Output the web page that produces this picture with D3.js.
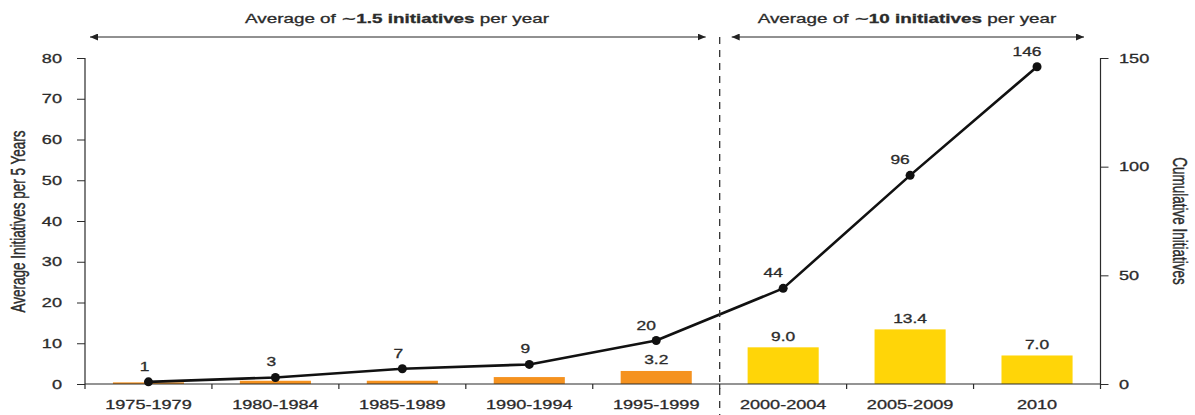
<!DOCTYPE html>
<html>
<head>
<meta charset="utf-8">
<script src="https://cdn.jsdelivr.net/npm/d3@7"></script>
<style>
  body { margin: 0; background: #fff; }
  svg { display: block; font-family: "Liberation Sans", Arial, Helvetica, sans-serif; }
  svg text { stroke: #2b2b2b; stroke-width: 0.3px; }
</style>
</head>
<body>
<div id="chart"></div>
<script>
// data
var categories = ["1975-1979", "1980-1984", "1985-1989", "1990-1994", "1995-1999", "2000-2004", "2005-2009", "2010"];
var avgPer5Years = [0.4, 0.8, 0.8, 1.7, 3.2, 9.0, 13.4, 7.0];
var barLabels = [null, null, null, null, "3.2", "9.0", "13.4", "7.0"];
var cumulative = [1, 3, 7, 9, 20, 44, 96, 146];
var era = ["early", "early", "early", "early", "early", "late", "late", "late"];
var leftTicks = [0, 10, 20, 30, 40, 50, 60, 70, 80];
var rightTicks = [0, 50, 100, 150];

var width = 1195, height = 415;
var sx = 1.45; // the original picture is stretched sideways, text too
var plotLeft = 85, plotRight = 1100.5, plotTop = 58, plotBottom = 384;
var ink = "#2b2b2b";
var colors = { early: "#F5921F", late: "#FFD508" };

var svg = d3.select("#chart").append("svg")
  .attr("width", width)
  .attr("height", height);

var defs = svg.append("defs");
defs.append("marker")
  .attr("id", "head")
  .attr("markerUnits", "userSpaceOnUse")
  .attr("markerWidth", 9).attr("markerHeight", 7)
  .attr("refX", 8).attr("refY", 3.5)
  .attr("orient", "auto-start-reverse")
  .append("path")
  .attr("d", "M0,0L8,3.5L0,7Z")
  .attr("fill", "#222");

var x = d3.scaleBand()
  .domain(categories)
  .range([plotLeft, plotRight])
  .paddingInner(0.44)
  .paddingOuter(0.22);

var yL = d3.scaleLinear().domain([0, 80]).range([plotBottom, plotTop]);
var yR = d3.scaleLinear().domain([0, 150]).range([plotBottom, plotTop]);

// helper: stretched text placed at (px, py)
function stretchedText(parent, px, py, rot) {
  var g = parent.append("g")
    .attr("transform", "translate(" + px + "," + py + ") scale(" + sx + ",1)" + (rot ? " rotate(" + rot + ")" : ""));
  return g.append("text").attr("fill", ink);
}

// bars
var step = x.step();
svg.selectAll("rect.bar")
  .data(categories)
  .enter().append("rect")
  .attr("class", "bar")
  .attr("x", function(d) { return x(d); })
  .attr("width", x.bandwidth())
  .attr("y", function(d, i) { return yL(avgPer5Years[i]); })
  .attr("height", function(d, i) { return plotBottom - yL(avgPer5Years[i]); })
  .attr("fill", function(d, i) { return colors[era[i]]; });

// bar labels
categories.forEach(function(c, i) {
  if (!barLabels[i]) return;
  stretchedText(svg, x(c) + x.bandwidth() / 2, yL(avgPer5Years[i]) - 6.5)
    .attr("text-anchor", "middle")
    .attr("font-size", 12)
    .text(barLabels[i]);
});

// left axis
var axL = svg.append("g").attr("transform", "translate(" + plotLeft + ",0)")
  .call(d3.axisLeft(yL).tickValues(leftTicks).tickSize(8).tickSizeOuter(0));
axL.select(".domain").remove();
axL.selectAll("line").attr("stroke", ink);
axL.selectAll("text")
  .attr("x", -23 / sx)
  .attr("transform", "scale(" + sx + ",1)")
  .attr("font-size", 12.5)
  .attr("font-family", null)
  .attr("fill", ink);
svg.append("line")
  .attr("x1", plotLeft).attr("x2", plotLeft)
  .attr("y1", plotTop).attr("y2", plotBottom + 5)
  .attr("stroke", ink).attr("stroke-width", 1.2);

// right axis
var axR = svg.append("g").attr("transform", "translate(" + plotRight + ",0)")
  .call(d3.axisRight(yR).tickValues(rightTicks).tickSize(8).tickSizeOuter(0));
axR.select(".domain").remove();
axR.selectAll("line").attr("stroke", ink);
axR.selectAll("text")
  .attr("x", 18.5 / sx)
  .attr("transform", "scale(" + sx + ",1)")
  .attr("font-size", 12.5)
  .attr("font-family", null)
  .attr("fill", ink);
svg.append("line")
  .attr("x1", plotRight).attr("x2", plotRight)
  .attr("y1", plotTop).attr("y2", plotBottom + 5)
  .attr("stroke", ink).attr("stroke-width", 1.2);

// x axis: baseline, ticks between the categories, labels
svg.append("line")
  .attr("x1", plotLeft).attr("x2", plotRight)
  .attr("y1", plotBottom).attr("y2", plotBottom)
  .attr("stroke", ink).attr("stroke-width", 1.2);
svg.selectAll("line.xtick")
  .data(categories.slice(1))
  .enter().append("line")
  .attr("class", "xtick")
  .attr("x1", function(d) { return x(d) - (step - x.bandwidth()) / 2; })
  .attr("x2", function(d) { return x(d) - (step - x.bandwidth()) / 2; })
  .attr("y1", plotBottom).attr("y2", plotBottom + 5)
  .attr("stroke", ink).attr("stroke-width", 1.2);
categories.forEach(function(c) {
  stretchedText(svg, x(c) + x.bandwidth() / 2, 409)
    .attr("text-anchor", "middle")
    .attr("font-size", 12.5)
    .text(c);
});

// cumulative line
var line = d3.line()
  .x(function(d, i) { return x(categories[i]) + x.bandwidth() / 2; })
  .y(function(d) { return yR(d); });
svg.append("path")
  .datum(cumulative)
  .attr("d", line)
  .attr("fill", "none")
  .attr("stroke", "#111")
  .attr("stroke-width", 2.6)
  .attr("stroke-linejoin", "round");
svg.selectAll("circle.pt")
  .data(cumulative)
  .enter().append("circle")
  .attr("class", "pt")
  .attr("cx", function(d, i) { return x(categories[i]) + x.bandwidth() / 2; })
  .attr("cy", function(d) { return yR(d); })
  .attr("r", 4.5)
  .attr("fill", "#111");
cumulative.forEach(function(v, i) {
  stretchedText(svg, x(categories[i]) + x.bandwidth() / 2 - (i < 4 ? 4 : 10), yR(v) - 11)
    .attr("text-anchor", "middle")
    .attr("font-size", 12)
    .text(v);
});

// dashed divider between the two eras
var divX = x(categories[5]) - (step - x.bandwidth()) / 2;
svg.append("line")
  .attr("x1", divX).attr("x2", divX)
  .attr("y1", 37).attr("y2", 415)
  .attr("stroke", "#333")
  .attr("stroke-width", 1.3)
  .attr("stroke-dasharray", "7,6");

// era arrows
var arrowY = 37;
svg.append("line")
  .attr("x1", 90).attr("x2", divX - 14)
  .attr("y1", arrowY).attr("y2", arrowY)
  .attr("stroke", "#222").attr("stroke-width", 1)
  .attr("marker-start", "url(#head)").attr("marker-end", "url(#head)");
svg.append("line")
  .attr("x1", divX + 12).attr("x2", 1084)
  .attr("y1", arrowY).attr("y2", arrowY)
  .attr("stroke", "#222").attr("stroke-width", 1)
  .attr("marker-start", "url(#head)").attr("marker-end", "url(#head)");

// era titles
var eraTitles = [
  { cx: 397, bold: "1.5 initiatives" },
  { cx: 907, bold: "10 initiatives" }
];
eraTitles.forEach(function(t) {
  var tx = stretchedText(svg, t.cx, 23)
    .attr("text-anchor", "middle")
    .attr("font-size", 13);
  tx.append("tspan").text("Average of \u223C");
  tx.append("tspan").attr("font-weight", "bold").text(t.bold);
  tx.append("tspan").text(" per year");
});

// axis titles
stretchedText(svg, 18, 221.5, -90)
  .attr("text-anchor", "middle")
  .attr("dy", "0.35em")
  .attr("font-size", 13.5)
  .text("Average Initiatives per 5 Years");
stretchedText(svg, 1179.5, 221, 90)
  .attr("text-anchor", "middle")
  .attr("dy", "0.35em")
  .attr("font-size", 13.5)
  .text("Cumulative Initiatives");
</script>
</body>
</html>
